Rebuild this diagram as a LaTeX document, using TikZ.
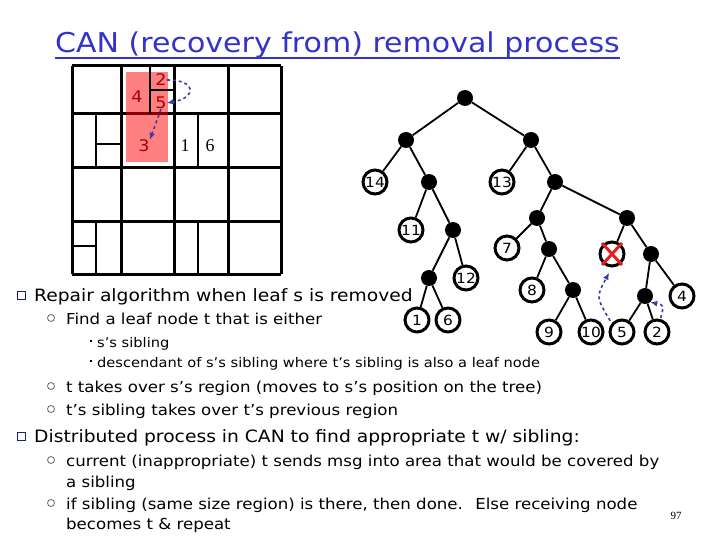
\documentclass[tikz,border=0pt]{standalone}
\usepackage{fontspec}
\setmainfont{DejaVu Sans}[FakeStretch=1.1]
\newfontfamily\numserif{Liberation Serif}
\usepackage{tikz}
\usetikzlibrary{arrows.meta,positioning,calc}
\definecolor{titleblue}{RGB}{51,51,204}
\definecolor{regionred}{RGB}{255,128,128}
\definecolor{labelred}{RGB}{170,0,0}
\definecolor{moveblue}{RGB}{60,60,170}
\definecolor{crossred}{RGB}{230,30,30}
\definecolor{bulletnavy}{RGB}{30,30,110}
\tikzset{
  cellline/.style={line width=3pt},
  splitline/.style={line width=1.2pt},
  regionlabel/.style={font=\fontsize{16}{16}\selectfont, text=labelred, inner sep=0pt},
  ownerlabel/.style={font=\numserif\fontsize{18}{18}\selectfont, inner sep=0pt},
  joint/.style={circle, fill=black, inner sep=0pt, minimum size=16pt},
  leaf/.style={circle, draw=black, line width=3pt, fill=white, inner sep=0pt,
               minimum size=24pt, font=\fontsize{14}{14}\selectfont},
  treeedge/.style={line width=1.8pt},
  movearrow/.style={-{Latex[length=7pt,width=6pt]}, dashed, line width=1.6pt, moveblue},
  lvlone/.style={anchor=base west, inner sep=0pt, font=\fontsize{17}{17}\selectfont},
  lvltwo/.style={anchor=base west, inner sep=0pt, font=\fontsize{15.1}{15.1}\selectfont},
  lvlthree/.style={anchor=base west, inner sep=0pt, font=\fontsize{13.3}{13.3}\selectfont},
  sqbullet/.style={rectangle, draw=bulletnavy, line width=1pt, minimum size=8pt, inner sep=0pt},
  ringbullet/.style={circle, draw=black!60, line width=0.8pt, minimum size=7pt, inner sep=0pt},
  dotbullet/.style={rectangle, fill=black, minimum size=2.5pt, inner sep=0pt},
}

\begin{document}
\begin{tikzpicture}[x=1pt, y=-1pt]
  \useasboundingbox (0,0) rectangle (720,540);
  % Title
  \node[anchor=base west, inner sep=0pt, text=titleblue, font=\fontsize{27.3}{27.3}\selectfont]
    (title) at (55,53) {CAN (recovery from) removal process};
  \draw[titleblue, line width=1.4pt] ($(title.base west)+(0,5)$) -- ($(title.base east)+(0,5)$);
  % Zone grid
  \fill[regionred] (126,72) rectangle (168,162);
  \foreach \x in {72,121,174,228,281} \draw[cellline] (\x,66) -- (\x,274);
  \foreach \y in {66,114,168,222,274} \draw[cellline] (72,\y) -- (281,\y);
  \draw[cellline, labelred!80!black] (126,114) -- (168,114);
  \draw[splitline] (150,66) -- (150,114) (150,90) -- (174,90);
  \draw[splitline] (96,114) -- (96,168) (96,144) -- (121,144);
  \draw[splitline] (198,114) -- (198,168);
  \draw[splitline] (96,222) -- (96,274) (72,246) -- (96,246);
  \draw[splitline] (198,222) -- (198,274);
  \node[regionlabel] (g4) at (137,97) {4};
  \node[regionlabel] (g2) at (161,80) {2};
  \node[regionlabel] (g5) at (161,103) {5};
  \node[regionlabel] (g3) at (144,146) {3};
  \node[ownerlabel] (g1) at (185,146) {1};
  \node[ownerlabel] (g6) at (210,146) {6};
  \draw[movearrow] (g2.east) .. controls (198,80) and (196,98) .. (g5.east);
  \draw[movearrow] (g5.south) -- (g3.north east);
  % Partition tree
  \node[joint] (root) at (465,98) {};
  \node[joint] (a) at (406,140) {};
  \node[joint] (b) at (531,140) {};
  \node[leaf] (n14) at (375,182) {14};
  \node[joint] (c) at (429,182) {};
  \node[leaf] (n13) at (502,182) {13};
  \node[joint] (d) at (555,182) {};
  \node[leaf] (n11) at (411,230) {11};
  \node[joint] (e) at (453,230) {};
  \node[joint] (f) at (537,218) {};
  \node[joint] (g) at (627,218) {};
  \node[joint] (j) at (429,278) {};
  \node[leaf] (n12) at (466,278) {12};
  \node[leaf] (n7) at (507,248) {7};
  \node[joint] (h) at (549,249) {};
  \node[leaf] (gone) at (612,254) {};
  \node[joint] (i) at (651,254) {};
  \node[leaf] (n1) at (417,320) {1};
  \node[leaf] (n6) at (448,320) {6};
  \node[leaf] (n8) at (532,290) {8};
  \node[joint] (k) at (573,290) {};
  \node[joint] (l) at (645,296) {};
  \node[leaf] (n4) at (682,296) {4};
  \node[leaf] (n9) at (549,332) {9};
  \node[leaf] (n10) at (591,332) {10};
  \node[leaf] (n5) at (622,332) {5};
  \node[leaf] (n2) at (657,332) {2};
  \foreach \p/\q in {root/a, root/b, a/n14, a/c, b/n13, b/d, c/n11, c/e, e/j, e/n12,
                     j/n1, j/n6, d/f, d/g, f/n7, f/h, h/n8, h/k, k/n9, k/n10,
                     g/gone, g/i, i/l, i/n4, l/n5, l/n2}
    \draw[treeedge] (\p) -- (\q);
  \draw[crossred, line width=3pt] ($(gone)+(-10,-11)$) -- ($(gone)+(10,11)$)
                                  ($(gone)+(-10,11)$) -- ($(gone)+(10,-11)$);
  \draw[movearrow, shorten <=3pt, shorten >=6pt] (n5.140) .. controls (596,297) .. (gone.south);
  \draw[movearrow, shorten <=1pt] (n2.75) .. controls (664,305) .. (l.-50);
  % Text
  \node[sqbullet] (b1) at (21,295) {};
  \node[lvlone] (t1) at (34,301) {Repair algorithm when leaf s is removed};
  \node[ringbullet] (b2) at (51,318) {};
  \node[lvltwo] (t2) at (66,324) {Find a leaf node t that is either};
  \node[dotbullet] (b3) at (91,341) {};
  \node[lvlthree] (t3) at (97,347) {s’s sibling};
  \node[dotbullet] (b4) at (91,361) {};
  \node[lvlthree] (t4) at (97,367) {descendant of s’s sibling where t’s sibling is also a leaf node};
  \node[ringbullet] (b5) at (51,386) {};
  \node[lvltwo] (t5) at (66,392) {t takes over s’s region (moves to s’s position on the tree)};
  \node[ringbullet] (b6) at (51,409) {};
  \node[lvltwo] (t6) at (66,415) {t’s sibling takes over t’s previous region};
  \node[sqbullet] (b7) at (21,436) {};
  \node[lvlone] (t7) at (34,442) {Distributed process in CAN to find appropriate t w/ sibling:};
  \node[ringbullet] (b8) at (51,460) {};
  \node[lvltwo] (t8) at (66,466) {current (inappropriate) t sends msg into area that would be covered by};
  \node[lvltwo] (t9) at (66,487) {a sibling};
  \node[ringbullet] (b10) at (51,503) {};
  \node[lvltwo] (t10) at (66,509) {if sibling (same size region) is there, then done.~ Else receiving node};
  \node[lvltwo] (t11) at (66,529) {becomes t \& repeat};
  \node[font=\numserif\fontsize{11}{11}\selectfont, inner sep=0pt] (page) at (676,516) {97};
\end{tikzpicture}
\end{document}
